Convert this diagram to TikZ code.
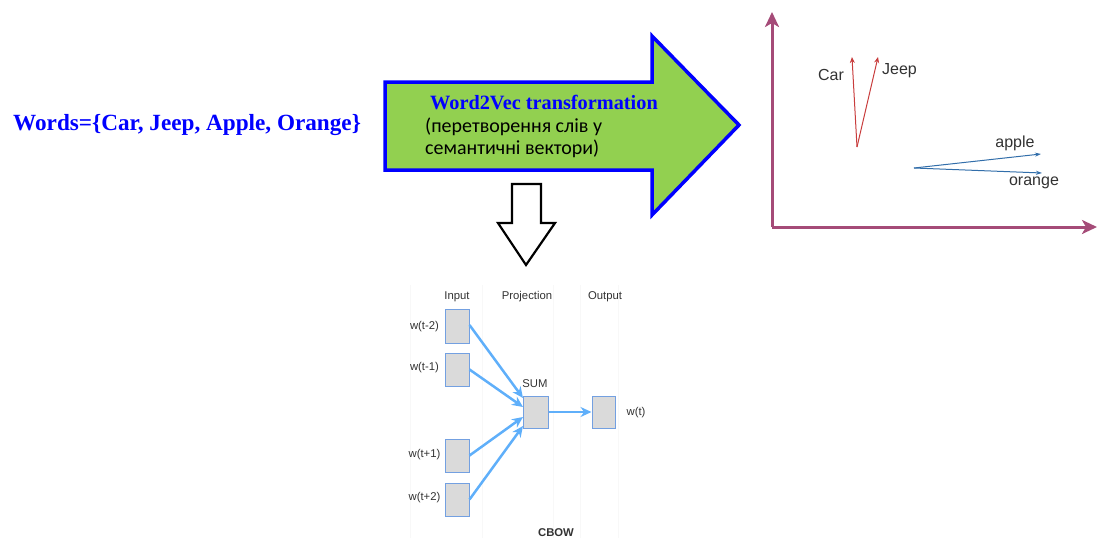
\documentclass[tikz,border=0pt]{standalone}
\usepackage{fontspec}
\setmainfont{Liberation Serif}
\newfontfamily\lsans{Liberation Sans}
\newfontfamily\carl{Carlito}
\usetikzlibrary{arrows.meta}
\definecolor{wblue}{RGB}{0,0,255}
\definecolor{agreen}{RGB}{146,208,80}
\definecolor{axcol}{RGB}{165,75,120}
\definecolor{carred}{RGB}{200,60,60}
\definecolor{fruitblue}{RGB}{50,110,170}
\definecolor{cbowarrow}{RGB}{95,175,250}
\definecolor{boxfill}{RGB}{218,218,218}
\definecolor{boxline}{RGB}{115,160,225}
\definecolor{lbl}{RGB}{50,50,50}
\definecolor{gridc}{RGB}{248,248,248}
\tikzset{
  cbox/.style={draw=boxline, fill=boxfill, line width=1pt, inner sep=0pt},
  clabel/.style={font=\lsans\fontsize{11.3}{12}\selectfont, text=lbl, inner sep=0pt},
  carrow/.style={draw=cbowarrow, line width=2.5pt, -{Stealth[length=11pt,width=10pt]}},
  glabel/.style={font=\lsans\fontsize{16}{18}\selectfont, text=lbl, inner sep=0pt},
  gridline/.style={draw=gridc, line width=0.6pt},
}
\begin{document}
\begin{tikzpicture}[x=1pt,y=-1pt]
\useasboundingbox (0,0) rectangle (1098,538);
% faint background lines of the CBOW figure
\foreach \gx in {410,482,553,580,618} {
  \draw[gridline] (\gx,285) -- (\gx,538);
}
% words
\node[font=\bfseries\fontsize{23.2}{26}\selectfont, text=wblue, anchor=west, inner sep=0pt] (words) at (13,125) {Words=\{Car, Jeep, Apple, Orange\}};
% big arrow
\draw[draw=wblue, fill=agreen, line width=3.5pt, line join=miter] (385,82) -- (652,82) -- (652,36) -- (739,125) -- (652,215) -- (652,170) -- (385,170) -- cycle;
\node[font=\bfseries\fontsize{20.3}{22}\selectfont, text=wblue, anchor=west, inner sep=0pt] (w2v) at (430,103) {Word2Vec transformation};
\node[font=\carl\fontsize{20}{22}\selectfont, anchor=west, inner sep=0pt] (ukr1) at (425,127) {(перетворення слів у};
\node[font=\carl\fontsize{20}{22}\selectfont, anchor=west, inner sep=0pt] (ukr2) at (425,149) {семантичні вектори)};
% down arrow
\draw[black, line width=2.2pt, fill=white, line join=miter] (512,184) -- (541,184) -- (541,223) -- (555,223) -- (526,265) -- (498,223) -- (512,223) -- cycle;
% graph axes
\coordinate (orig) at (772,227);
\coordinate (ytop) at (772,12);
\coordinate (xend) at (1097,227);
\draw[axcol, line width=3pt, -{Stealth[length=15pt,width=14pt,inset=4pt]}] (orig) -- (ytop);
\draw[axcol, line width=3pt, -{Stealth[length=15pt,width=14pt,inset=4pt]}] (orig) -- (xend);
% car/jeep
\coordinate (cj) at (857,147);
\coordinate (carp) at (852,57);
\coordinate (jeepp) at (878,57);
\draw[carred, line width=1pt, -{Stealth[length=6pt,width=5pt]}] (cj) -- (carp);
\draw[carred, line width=1pt, -{Stealth[length=6pt,width=5pt]}] (cj) -- (jeepp);
\node[glabel] (carl) at (831,75) {Car};
\node[glabel] (jeepl) at (899.5,71) {Jeep};
% fruits
\coordinate (fr) at (914,168);
\coordinate (applep) at (1041,154);
\coordinate (orangep) at (1042,173);
\draw[fruitblue, line width=1pt, -{Stealth[length=6pt,width=4pt]}] (fr) -- (applep);
\draw[fruitblue, line width=1pt, -{Stealth[length=6pt,width=4pt]}] (fr) -- (orangep);
\node[glabel] (applel) at (1015,143) {apple};
\node[glabel] (orangel) at (1034,183) {orange};
% CBOW
\node[clabel] (hin) at (457,297) {Input};
\node[clabel] (hproj) at (527,297) {Projection};
\node[clabel] (hout) at (605,297) {Output};
\node[cbox, minimum width=24pt, minimum height=34pt] (i1) at (457,326) {};
\node[cbox, minimum width=24pt, minimum height=33pt] (i2) at (457,369.5) {};
\node[cbox, minimum width=24pt, minimum height=33pt] (i3) at (457,455.5) {};
\node[cbox, minimum width=24pt, minimum height=33pt] (i4) at (457,499.5) {};
\node[cbox, minimum width=25pt, minimum height=32pt] (sum) at (535.5,412) {};
\node[cbox, minimum width=23pt, minimum height=32pt] (out) at (603.5,412) {};
\node[clabel] (l1) at (424.5,327) {w(t-2)};
\node[clabel] (l2) at (424.5,368) {w(t-1)};
\node[clabel] (l3) at (424.5,455) {w(t+1)};
\node[clabel] (l4) at (424.5,498) {w(t+2)};
\node[clabel] (lsum) at (535,384) {SUM};
\node[clabel] (lout) at (636,413) {w(t)};
\node[clabel, font=\lsans\bfseries\fontsize{11.3}{12}\selectfont] (cbow) at (556,533) {CBOW};
\coordinate (s1) at (523,398);
\coordinate (s2) at (523,407);
\coordinate (s3) at (523,417);
\coordinate (s4) at (523,426);
\draw[carrow] ([yshift=1pt]i1.east) -- (s1);
\draw[carrow] (i2.east) -- (s2);
\draw[carrow] (i3.east) -- (s3);
\draw[carrow] (i4.east) -- (s4);
\draw[carrow] (sum.east) -- (out.west);
\end{tikzpicture}
\end{document}
